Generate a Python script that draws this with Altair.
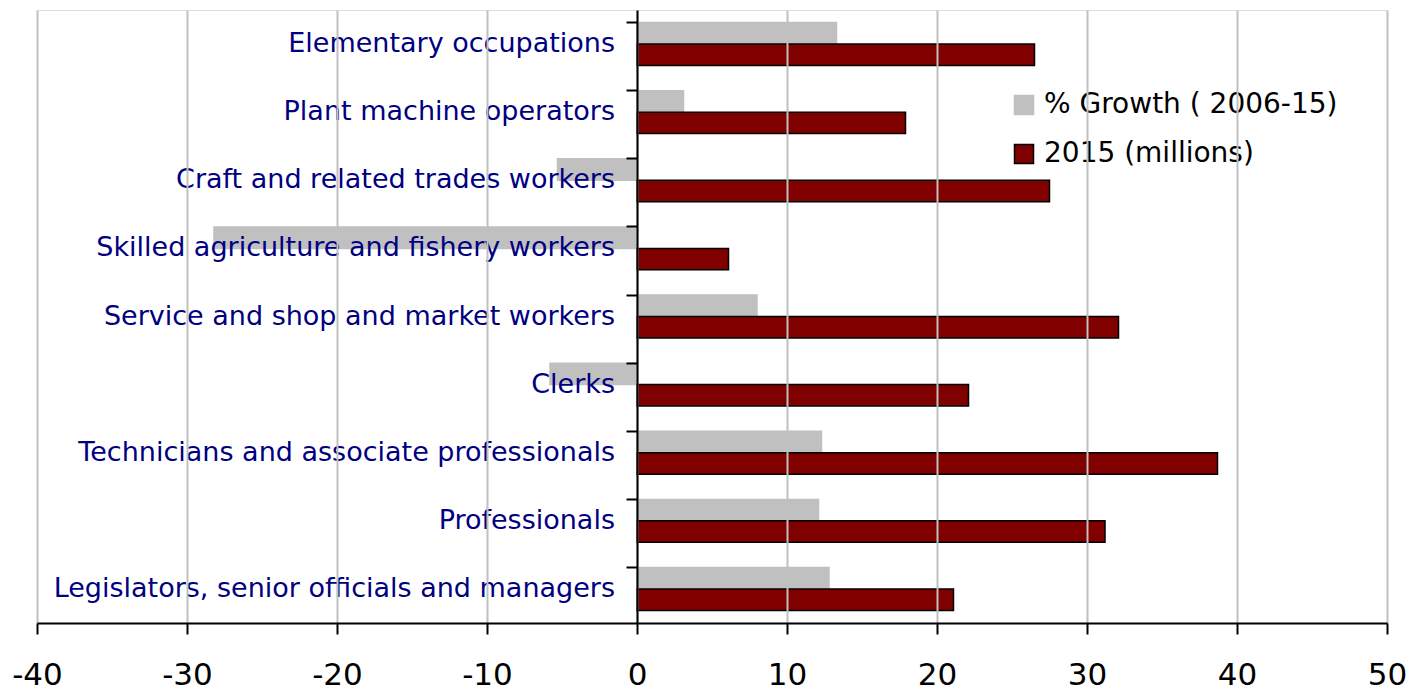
import altair as alt
import pandas as pd

categories = [
    "Elementary occupations",
    "Plant machine operators",
    "Craft and related trades workers",
    "Skilled agriculture and fishery workers",
    "Service and shop and market workers",
    "Clerks",
    "Technicians and associate professionals",
    "Professionals ",
    "Legislators, senior officials and managers",
]
growth = [13.3, 3.1, -5.3, -28.2, 8.0, -5.8, 12.3, 12.1, 12.8]
millions_2015 = [26.5, 17.9, 27.5, 6.1, 32.1, 22.1, 38.7, 31.2, 21.1]
series_names = ["% Growth ( 2006-15)", "2015 (millions)"]
x_ticks = [-40, -30, -20, -10, 0, 10, 20, 30, 40, 50]

rows = []
for c, g, m in zip(categories, growth, millions_2015):
    rows.append({"category": c, "series": series_names[0], "value": g})
    rows.append({"category": c, "series": series_names[1], "value": m})
df = pd.DataFrame(rows)
labels_df = pd.DataFrame({"category": categories})

FONT = "DejaVu Sans"

y_enc = alt.Y(
    "category:N",
    sort=categories,
    scale=alt.Scale(paddingInner=0.37, paddingOuter=0.185),
    axis=alt.Axis(
        title=None,
        labels=False,
        grid=False,
        offset=-600,
        bandPosition=0,
        domainColor="black",
        domainWidth=2,
        tickColor="black",
        tickWidth=2,
        tickSize=11,
        zindex=1,
    ),
)

x_enc = alt.X(
    "value:Q",
    scale=alt.Scale(domain=[-40, 50], nice=False, zero=False),
    axis=alt.Axis(
        title=None,
        values=x_ticks,
        labelExpr="'' + datum.value",
        labelFlush=False,
        labelOverlap=False,
        grid=True,
        gridColor="#C0C0C0",
        gridWidth=2,
        domainColor="black",
        domainWidth=2,
        tickColor="black",
        tickWidth=2,
        tickSize=11,
        labelFont=FONT,
        labelFontSize=31,
        labelColor="black",
        labelPadding=26,
        zindex=1,
    ),
)

legend = alt.Legend(
    title=None,
    orient="none",
    legendX=973,
    legendY=81,
    symbolType="square",
    symbolSize=361,
    symbolStrokeWidth=1.5,
    labelFont=FONT,
    labelFontSize=28,
    labelColor="black",
    labelOffset=6,
    labelLimit=0,
    rowPadding=21,
    padding=0,
)

bars = alt.Chart(df).mark_bar(strokeWidth=1.5).encode(
    y=y_enc,
    yOffset=alt.YOffset("series:N", sort=series_names, scale=alt.Scale(domain=series_names)),
    x=x_enc,
    fill=alt.Fill("series:N", sort=series_names,
                  scale=alt.Scale(domain=series_names, range=["#C0C0C0", "#800000"]),
                  legend=legend),
    stroke=alt.Stroke("series:N", sort=series_names,
                      scale=alt.Scale(domain=series_names, range=["#C0C0C0", "black"]),
                      legend=legend),
)

text = alt.Chart(labels_df).mark_text(
    align="right", baseline="middle", dx=-22, font=FONT, fontSize=27, color="#000080"
).encode(
    y=alt.Y("category:N", sort=categories),
    x=alt.datum(0),
    text="category:N",
)

chart = alt.layer(bars, text).properties(
    width=1350,
    height=613,
    autosize=alt.AutoSizeParams(type="none"),
    padding={"left": 29, "top": 2, "right": 21, "bottom": 68},
).configure_view(
    stroke="#808080", strokeWidth=2
).configure(background="white")

chart.save("out.html", embed_options={"renderer": "svg", "actions": False})
